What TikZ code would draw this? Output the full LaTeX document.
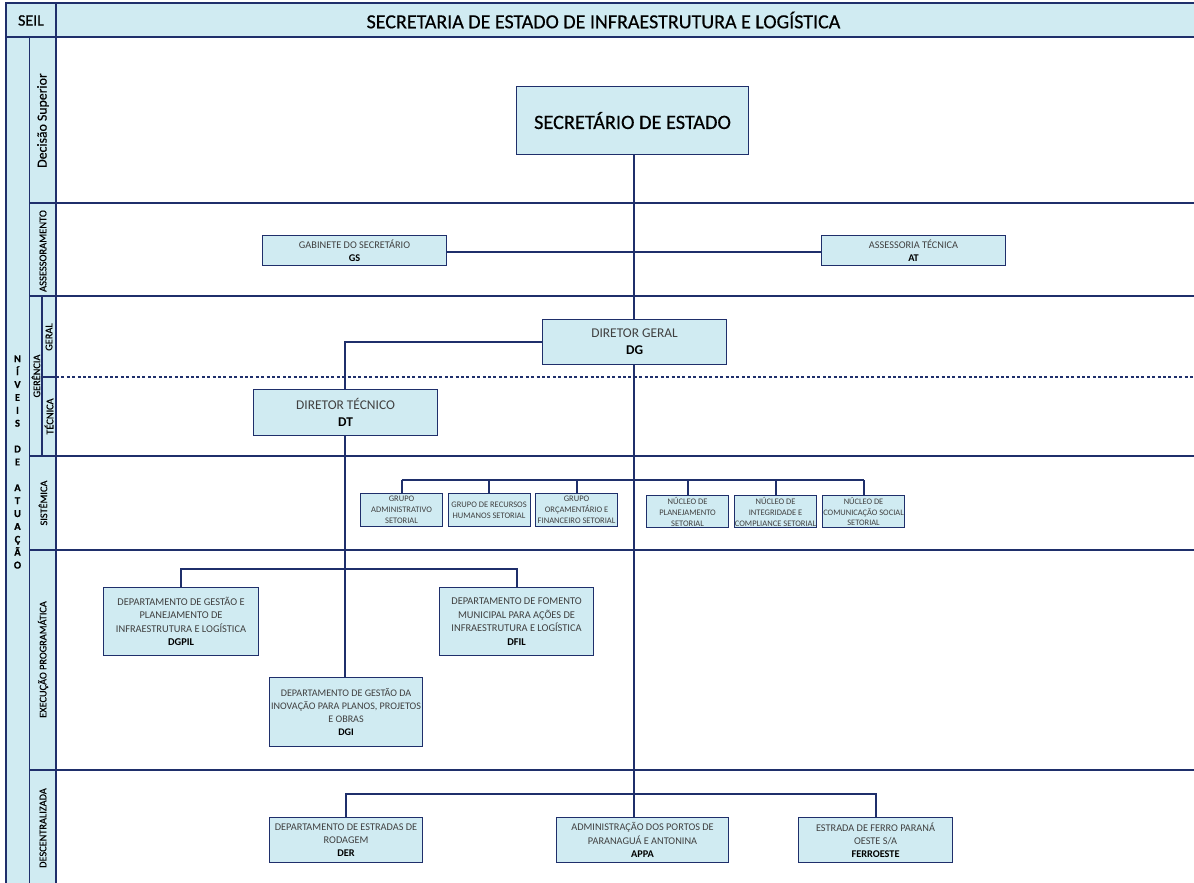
\documentclass[tikz,border=0pt]{standalone}
\usepackage{fontspec}
\setmainfont{Carlito}
\newfontfamily\hvy[FakeBold=0.5]{Carlito}
\definecolor{fillb}{HTML}{D0EBF2}
\definecolor{lineb}{HTML}{1F2F6B}
\definecolor{txtg}{HTML}{404040}
\tikzset{
  band/.style={draw=lineb,fill=fillb,line width=1.3pt,minimum width=0pt,inner sep=0pt},
  vlabel/.style={rotate=90,text=black,inner sep=0pt,font=\hvy\fontsize{#1}{#1}\selectfont},
  orgbox/.style={draw=lineb,fill=fillb,line width=1.1pt,inner sep=0pt,align=center,text=txtg},
  conn/.style={draw=lineb,line width=1.9pt},
  sep/.style={draw=lineb,line width=1.3pt},
}
\newcommand{\bx}[7]{% name,x0,y0,x1,y1,fontsize,text
  \pgfmathsetmacro{\lsk}{#6*1.29}
  \node[orgbox,minimum width=#4pt-#2pt,minimum height=#5pt-#3pt,font=\fontsize{#6}{\lsk}\selectfont,anchor=north west] (#1) at (#2,#3) {#7};}
\begin{document}
\begin{tikzpicture}[x=1pt,y=-1pt]
\useasboundingbox (0,0) rectangle (1194,883);
% header
\draw[band] (6,3) rectangle (56,37);
\draw[band] (56,3) rectangle (1200,37);
\node[font=\hvy\fontsize{16}{16}\selectfont] (seil) at (31,20.5) {SEIL};
\node[font=\hvy\fontsize{20}{20}\selectfont] (titulo) at (603.5,20) {SECRETARIA DE ESTADO DE INFRAESTRUTURA E LOGÍSTICA};
% left columns
\draw[band] (6,37) rectangle (29.5,890);
\draw[band] (29.5,37) rectangle (56,203);
\draw[band] (29.5,203) rectangle (56,296);
\draw[band] (29.5,296) rectangle (42,456);
\draw[band] (42,296) rectangle (56,377);
\draw[band] (42,377) rectangle (56,456);
\draw[band] (29.5,456) rectangle (56,550);
\draw[band] (29.5,550) rectangle (56,770);
\draw[band] (29.5,770) rectangle (56,890);
% separators
\coordinate (s1) at (56,203); \coordinate (e1) at (1200,203);
\coordinate (s2) at (56,296); \coordinate (e2) at (1200,296);
\coordinate (s3) at (56,456); \coordinate (e3) at (1200,456);
\coordinate (s4) at (56,550); \coordinate (e4) at (1200,550);
\coordinate (s5) at (56,770); \coordinate (e5) at (1200,770);
\coordinate (sd) at (56,377); \coordinate (ed) at (1200,377);
\foreach \i in {1,...,5} \draw[sep] (s\i) -- (e\i);
\draw[lineb,line width=1.3pt,dash pattern=on 3pt off 2.4pt] (sd) -- (ed);
% labels
\node[font=\hvy\bfseries\fontsize{10.5}{12.9}\selectfont,align=center] (niveis) at (17.5,462) {N\\Í\\V\\E\\I\\S\\[12.9pt]D\\E\\[12.9pt]A\\T\\U\\A\\Ç\\Ã\\O};
\node[vlabel=13.8] (l1) at (43,120.5) {Decisão Superior};
\node[vlabel=10.5] (l2) at (43,251) {ASSESSORAMENTO};
\node[vlabel=10.3] (l3) at (49,337) {GERAL};
\node[vlabel=10.3] (l4) at (36,376) {GERÊNCIA};
\node[vlabel=10.3] (l5) at (49,416.5) {TÉCNICA};
\node[vlabel=10.3] (l6) at (43,503) {SISTÊMICA};
\node[vlabel=10.3] (l7) at (43,659.5) {EXECUÇÃO PROGRAMÁTICA};
\node[vlabel=10.3] (l8) at (43,828) {DESCENTRALIZADA};
% boxes
\bx{sec}{516}{86}{748}{154}{20.3}{\textcolor{black}{\hvy SECRETÁRIO DE ESTADO}}
\bx{gs}{262}{235}{446}{265}{10.3}{GABINETE DO SECRETÁRIO\\\textcolor{black}{\textbf{GS}}}
\bx{at}{821}{235}{1005}{265}{10.3}{ASSESSORIA TÉCNICA\\\textcolor{black}{\textbf{AT}}}
\bx{dg}{542}{319}{726}{364}{13.4}{DIRETOR GERAL\\\textcolor{black}{\textbf{DG}}}
\bx{dt}{253}{389}{437}{435}{13.4}{DIRETOR TÉCNICO\\\textcolor{black}{\textbf{DT}}}
\bx{g1}{360}{493}{442}{526}{8.5}{GRUPO\\ADMINISTRATIVO\\SETORIAL}
\bx{g2}{447.5}{493}{529.5}{526}{8.5}{GRUPO DE RECURSOS\\HUMANOS SETORIAL}
\bx{g3}{535}{493}{617}{526}{8.5}{GRUPO\\ORÇAMENTÁRIO E\\FINANCEIRO SETORIAL}
\bx{n1}{646}{495}{728}{527}{8.5}{NÚCLEO DE\\PLANEJAMENTO\\SETORIAL}
\bx{n2}{734}{495}{816}{527}{8.5}{NÚCLEO DE\\INTEGRIDADE E\\COMPLIANCE SETORIAL}
\bx{n3}{822}{495}{904}{527}{8.4}{NÚCLEO DE\\COMUNICAÇÃO SOCIAL\\SETORIAL}
\bx{dgpil}{103}{587}{258}{655}{10.4}{DEPARTAMENTO DE GESTÃO E\\PLANEJAMENTO DE\\INFRAESTRUTURA  E LOGÍSTICA\\\textcolor{black}{\textbf{DGPIL}}}
\bx{dfil}{439}{587}{593}{655}{10.4}{DEPARTAMENTO DE FOMENTO\\MUNICIPAL PARA AÇÕES DE\\INFRAESTRUTURA E LOGÍSTICA\\\textcolor{black}{\textbf{DFIL}}}
\bx{dgi}{269}{677}{422}{746}{10.1}{DEPARTAMENTO DE GESTÃO DA\\INOVAÇÃO PARA PLANOS, PROJETOS\\E OBRAS\\\textcolor{black}{\textbf{DGI}}}
\bx{der}{269}{817}{422}{862}{10.3}{DEPARTAMENTO DE ESTRADAS DE\\RODAGEM\\\textcolor{black}{\textbf{DER}}}
\bx{appa}{556}{817}{728}{862}{10.3}{ADMINISTRAÇÃO DOS PORTOS DE\\PARANAGUÁ E ANTONINA\\\textcolor{black}{\textbf{APPA}}}
\bx{ferro}{798}{817}{952}{862}{10.3}{ESTRADA DE FERRO PARANÁ\\OESTE S/A\\\textcolor{black}{\textbf{FERROESTE}}}
% connectors
\coordinate (mx) at (634,0);
\draw[conn] (sec.south -| mx) -- (dg.north -| mx);
\draw[conn] (dg.south -| mx) -- (appa.north -| mx);
\draw[conn] ([yshift=-1pt]gs.east) -- ([yshift=-1pt]at.west);
\draw[conn] (dg.west) -- ++(-197,0) coordinate (dgl) -- (dt.north -| dgl);
\draw[conn] (dt.south -| dgl) -- (dgi.north -| dgl);
% systemic bus
\coordinate (busy) at (0,480);
\draw[conn] (g1.north |- busy) -- (n3.north |- busy);
\foreach \n in {g1,g2,g3,n1,n2,n3} \draw[conn] (\n.north |- busy) -- (\n.north);
% execution bus
\coordinate (bus2) at (0,569);
\draw[conn] (dgpil.north) -- (dgpil.north |- bus2) -- (dfil.north |- bus2) -- (dfil.north);
% decentralised bus
\coordinate (bus3) at (0,794);
\draw[conn] (der.north) -- (der.north |- bus3) -- (ferro.north |- bus3) -- (ferro.north);
\end{tikzpicture}
\end{document}
